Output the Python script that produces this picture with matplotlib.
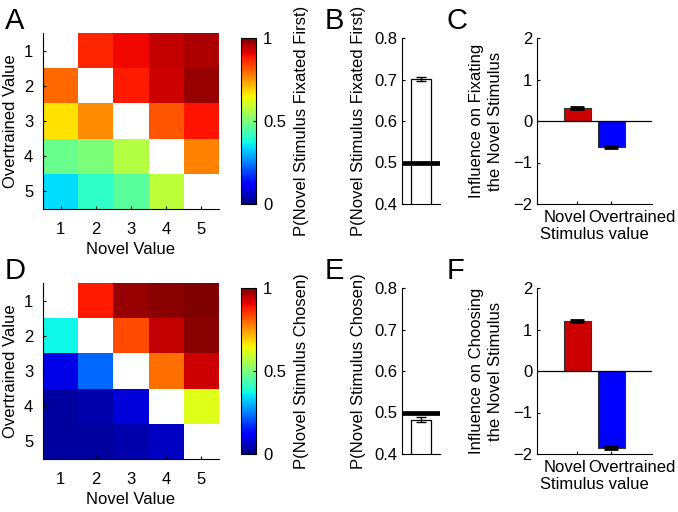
import numpy as np
import matplotlib
matplotlib.use('Agg')
import matplotlib.pyplot as plt
import matplotlib.transforms as mtransforms

plt.rcParams['font.family'] = ['Liberation Sans', 'DejaVu Sans']
plt.rcParams['font.size'] = 12

# ---- data ----
values = [1, 2, 3, 4, 5]
nan = np.nan

# rows: overtrained value 1..5, columns: novel value 1..5
fixated_first = [
    [nan, 0.87, 0.90, 0.94, 0.96],
    [0.80, nan, 0.88, 0.93, 0.98],
    [0.67, 0.76, nan, 0.82, 0.89],
    [0.48, 0.50, 0.57, nan, 0.77],
    [0.34, 0.41, 0.46, 0.58, nan],
]
chosen = [
    [nan, 0.88, 0.98, 0.99, 1.00],
    [0.37, nan, 0.83, 0.94, 0.99],
    [0.09, 0.23, nan, 0.79, 0.93],
    [0.03, 0.04, 0.08, nan, 0.62],
    [0.03, 0.03, 0.04, 0.06, nan],
]

p_fixated_first = 0.701
p_fixated_first_err = 0.005
p_chosen = 0.483
p_chosen_err = 0.007

influence_labels = ['Novel', 'Overtrained']
influence_colors = ['#cc0000', '#0000ff']
influence_fixating = [0.31, -0.62]
influence_fixating_err = [0.02, 0.02]
influence_choosing = [1.20, -1.85]
influence_choosing_err = [0.03, 0.04]

W, H = 678, 512
fig = plt.figure(figsize=(W / 100, H / 100), dpi=100)


def ax_px(x0, y0, x1, y1):
    return fig.add_axes([x0 / W, 1 - y1 / H, (x1 - x0) / W, (y1 - y0) / H])


def style(ax):
    ax.spines['top'].set_visible(False)
    ax.spines['right'].set_visible(False)
    ax.tick_params(direction='in', length=2.5, width=0.8)


def heatmap(top, data, cbar_label):
    ax = ax_px(43, top, 219, top + 176)
    im = ax.imshow(np.array(data), cmap='jet', vmin=0, vmax=1,
                   extent=(0.5, 5.5, 5.5, 0.5), aspect='auto',
                   interpolation='nearest')
    style(ax)
    ax.set_xticks(values)
    ax.set_yticks(values)
    ax.tick_params(axis='x', pad=9)
    ax.tick_params(axis='y', pad=7)
    ax.set_xlabel('Novel Value', labelpad=4)
    ax.set_ylabel('Overtrained Value', labelpad=4)
    cax = ax_px(241, top + 5, 256, top + 171)
    cb = fig.colorbar(im, cax=cax)
    cb.set_ticks([0, 0.5, 1])
    cb.set_ticklabels(['0', '0.5', '1'])
    cb.ax.tick_params(direction='in', length=2.5, width=0.8, pad=5)
    cb.outline.set_linewidth(0.8)
    cb.set_label(cbar_label, labelpad=6)


def single_bar(top, val, err, ylabel):
    ax = ax_px(402, top, 440, top + 166)
    ax.bar([1], [val], width=0.53, color='white', edgecolor='black',
           linewidth=0.9, zorder=2)
    ax.errorbar([1], [val], yerr=[err], color='black', capsize=3.6,
                elinewidth=1, capthick=1, zorder=3)
    ax.axhline(0.5, color='black', lw=3.4, zorder=4)
    ax.set_xlim(0.5, 1.5)
    ax.set_ylim(0.4, 0.8)
    ax.set_yticks([0.4, 0.5, 0.6, 0.7, 0.8])
    ax.set_xticks([])
    style(ax)
    ax.set_ylabel(ylabel, labelpad=6)


def influence(top, vals, errs, ylabel):
    ax = ax_px(537, top, 652, top + 166)
    x = [1, 2]
    ax.bar(x, vals, width=0.8, color=influence_colors, edgecolor='#333333',
           linewidth=0.8, zorder=2)
    ax.errorbar(x, vals, yerr=errs, fmt='none', ecolor='black', capsize=5,
                elinewidth=1.2, capthick=2, zorder=3)
    ax.axhline(0, color='black', lw=0.9, zorder=4)
    ax.set_xlim(-0.18, 3.2)
    ax.set_ylim(-2, 2)
    ax.set_yticks([-2, -1, 0, 1, 2])
    ax.set_xticks(x)
    ax.set_xticklabels(influence_labels)
    style(ax)
    ax.tick_params(axis='x', pad=4)
    shifts = [-12, 21]
    for lab, dx in zip(ax.get_xticklabels(), shifts):
        off = mtransforms.ScaledTranslation(dx / 100, 0, fig.dpi_scale_trans)
        lab.set_transform(lab.get_transform() + off)
    ax.set_xlabel('Stimulus value', labelpad=2)
    ax.set_ylabel(ylabel, labelpad=7, linespacing=1.35)


heatmap(33, fixated_first, 'P(Novel Stimulus Fixated First)')
heatmap(283, chosen, 'P(Novel Stimulus Chosen)')
single_bar(38, p_fixated_first, p_fixated_first_err,
           'P(Novel Stimulus Fixated First)')
single_bar(288, p_chosen, p_chosen_err, 'P(Novel Stimulus Chosen)')
influence(38, influence_fixating, influence_fixating_err,
          'Influence on Fixating\nthe Novel Stimulus')
influence(288, influence_choosing, influence_choosing_err,
          'Influence on Choosing\nthe Novel Stimulus')

for letter, x, y in [('A', 5, 7), ('B', 325, 7), ('C', 447, 7),
                     ('D', 5, 257), ('E', 325, 257), ('F', 447, 257)]:
    fig.text(x / W, 1 - y / H, letter, fontsize=21, va='top', ha='left')

fig.savefig('out.png', dpi=100)
